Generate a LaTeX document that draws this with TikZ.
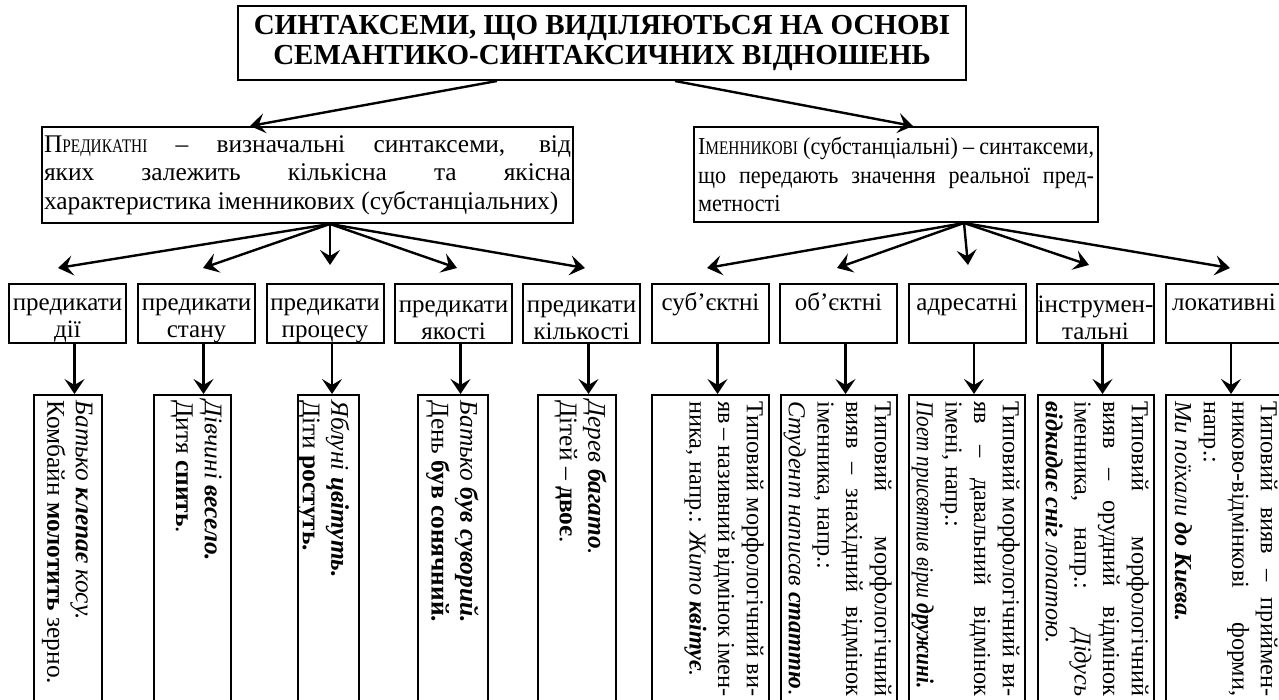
\documentclass[tikz,border=0pt]{standalone}
\usepackage{graphicx}
\usepackage{fontspec}
\setmainfont{Liberation Serif}
% condensed cuts of the same face
\newfontfamily\nounfont[FakeStretch=0.91]{Liberation Serif}
\newfontfamily\scfont[FakeStretch=0.8]{Liberation Serif}
\usetikzlibrary{arrows.meta,calc}
% imitation of condensed small capitals for the lead words
\newcommand{\smallcap}[1]{{\scfont\fontsize{9.6pt}{14pt}\selectfont #1}}
% one fully justified line
\newcommand{\jline}[1]{\makebox[\hsize][s]{\spaceskip=0pt\xspaceskip=0pt\relax #1}}
% raises the first line of a two-line label
\newcommand{\topstrut}{\rule{0pt}{13pt}}
\begin{document}
\begin{tikzpicture}[x=0.5pt,y=-0.5pt,
  every node/.style={font=\fontsize{12.7pt}{14.3pt}\selectfont},
  narrowfont/.style={font=\fontsize{12.15pt}{14.3pt}\selectfont},
  box/.style={draw,line width=1pt,inner sep=0pt},
  kind/.style={box,anchor=north west,minimum width=58.5pt,minimum height=29.5pt,
    align=center,font=\fontsize{12.5pt}{13.5pt}\selectfont},
  column/.style={box,anchor=north west,minimum height=200pt},
  vtext/.style={rotate=-90,anchor=north west,inner sep=0pt,align=flush left},
  vjust/.style={vtext,narrowfont,text width=147.5pt},
  arr/.style={-{Stealth[length=7.5pt,width=10pt,inset=3pt]},line width=1.2pt},
]
\useasboundingbox (0,0) rectangle (1279,700);
\clip (0,0) rectangle (1279,700);

% heading
\node[box,anchor=north west,minimum width=364pt,minimum height=37pt,align=flush center,
  font=\fontsize{14.5pt}{15.2pt}\selectfont\bfseries] (title) at (237,5)
  {СИНТАКСЕМИ, ЩО ВИДІЛЯЮТЬСЯ НА ОСНОВІ\\СЕМАНТИКО-СИНТАКСИЧНИХ ВІДНОШЕНЬ};

% two main classes
\node[box,anchor=north west,minimum width=265.5pt,minimum height=48pt,
  inner xsep=1pt,text width=263.5pt,align=flush left] (pred) at (41,126)
  {\jline{П\smallcap{РЕДИКАТНІ} – визначальні синтаксеми, від}\\
   \jline{яких залежить кількісна та якісна}\\
   характеристика іменникових (субстанціальних)};
\node[box,anchor=north west,minimum width=202pt,minimum height=47.5pt,
  inner xsep=2pt,text width=198pt,align=flush left,
  font=\nounfont\fontsize{12.15pt}{14.3pt}\selectfont] (noun) at (693,126)
  {\jline{І\smallcap{МЕННИКОВІ} (субстанціальні) – синтаксеми,}\\
   \jline{що передають значення реальної пред-}\\
   метності};

\draw[arr] ([xshift=130pt]title.south west) -- ([xshift=104.5pt]pred.north west);
\draw[arr] ([xshift=219pt]title.south west) -- ([xshift=110pt]noun.north west);

% subclasses
\node[kind] (s1) at (8,283) {\topstrut предикати\\дії};
\node[kind] (s2) at (137,283) {\topstrut предикати\\стану};
\node[kind] (s3) at (265.5,283) {\topstrut предикати\\процесу};
\node[kind] (s4) at (394,283) {\topstrut предикати\\якості};
\node[kind] (s5) at (522,283) {\topstrut предикати\\кількості};
\node[kind] (s6) at (651,283) {\topstrut суб’єктні\\\phantom{д}};
\node[kind] (s7) at (779,283) {\topstrut об’єктні\\\phantom{д}};
\node[kind] (s8) at (907.5,283) {\topstrut адресатні\\\phantom{д}};
\node[kind] (s9) at (1036,283) {\topstrut інструмен-\\тальні};
\node[kind] (s10) at (1164.5,283) {\topstrut локативні\\\phantom{д}};

% fan arrows
\coordinate (pf) at ([xshift=144.5pt]pred.south west);
\coordinate (nf) at ([xshift=135.5pt]noun.south west);
\coordinate (p1) at (58,268);
\coordinate (p2) at (203,268);
\coordinate (p3) at (330,265);
\coordinate (p4) at (457,268);
\coordinate (p5) at (585,268);
\coordinate (n1) at (707,268);
\coordinate (n2) at (837,268);
\coordinate (n3) at (968,265);
\coordinate (n4) at (1089,265);
\coordinate (n5) at (1230,268);
\foreach \t in {p1,p2,p3,p4,p5} \draw[arr] (pf) -- (\t);
\foreach \t in {n1,n2,n3,n4,n5} \draw[arr] (nf) -- (\t);

% example columns
\node[column,minimum width=34pt] (e1) at (33,394) {};
\node[column,minimum width=38.5pt] (e2) at (153,394) {};
\node[column,minimum width=30.5pt] (e3) at (297,394) {};
\node[column,minimum width=35pt] (e4) at (417,394) {};
\node[column,minimum width=39pt] (e5) at (537,394) {};
\node[column,minimum width=58.5pt] (e6) at (651,394) {};
\node[column,minimum width=58pt] (e7) at (780,394) {};
\node[column,minimum width=58pt] (e8) at (908,394) {};
\node[column,minimum width=58pt] (e9) at (1037,394) {};
\node[column,minimum width=58.5pt] (e10) at (1165,394) {};

\foreach \i in {1,...,10}
  \draw[arr] ([xshift=3.5pt]s\i.south) -- ([xshift=3.5pt]s\i.south |- e\i.north);

% column texts, read from top to bottom
\node[vtext] at ($(e1.north east)+(-10,6)$)
  {\itshape Батько \textbf{клепає} косу.\\Комбайн \textbf{молотить} зерно.};
\node[vtext] at ($(e2.north east)+(-10,6)$)
  {\itshape Дівчині \textbf{весело.}\\Дитя \textbf{спить}.};
\node[vtext] at ($(e3.north east)+(-10,6)$)
  {\itshape Яблуні \textbf{цвітуть.}\\Діти \textbf{ростуть.}};
\node[vtext] at ($(e4.north east)+(-10,6)$)
  {\itshape Батько \textbf{був суворий.}\\День \textbf{був сонячний.}};
\node[vtext] at ($(e5.north east)+(-10,6)$)
  {\itshape Дерев \textbf{багато}.\\Дітей – \textbf{двоє}.};
\node[vjust] at ($(e6.north east)+(-6,7)$)
  {\jline{Типовий морфологічний ви-}\\
   \jline{яв – називний відмінок імен-}\\
   ника, напр.: \textit{Жито \textbf{квітує}.}};
\node[vjust] at ($(e7.north east)+(-6,7)$)
  {\jline{Типовий морфологічний}\\
   \jline{вияв – знахідний відмінок}\\
   іменника, напр.:\\
   \textit{Студент написав \textbf{статтю}}.};
\node[vjust] at ($(e8.north east)+(-6,7)$)
  {\jline{Типовий морфологічний ви-}\\
   \jline{яв – давальний відмінок}\\
   імені, напр.:\\
   \scalebox{0.87}[1]{\textit{Поет присвятив вірш \textbf{дружині.}}}};
\node[vjust] at ($(e9.north east)+(-6,7)$)
  {\jline{Типовий морфологічний}\\
   \jline{вияв – орудний відмінок}\\
   \jline{іменника, напр.: \textit{Дідусь}}\\
   \textit{\textbf{відкидає сніг} лопатою.}};
\node[vjust] at ($(e10.north east)+(-6,7)$)
  {\jline{Типовий вияв – приймен-}\\
   \jline{никово-відмінкові форми,}\\
   напр.:\\
   \textit{Ми поїхали \textbf{до Києва.}}};
\end{tikzpicture}
\end{document}
